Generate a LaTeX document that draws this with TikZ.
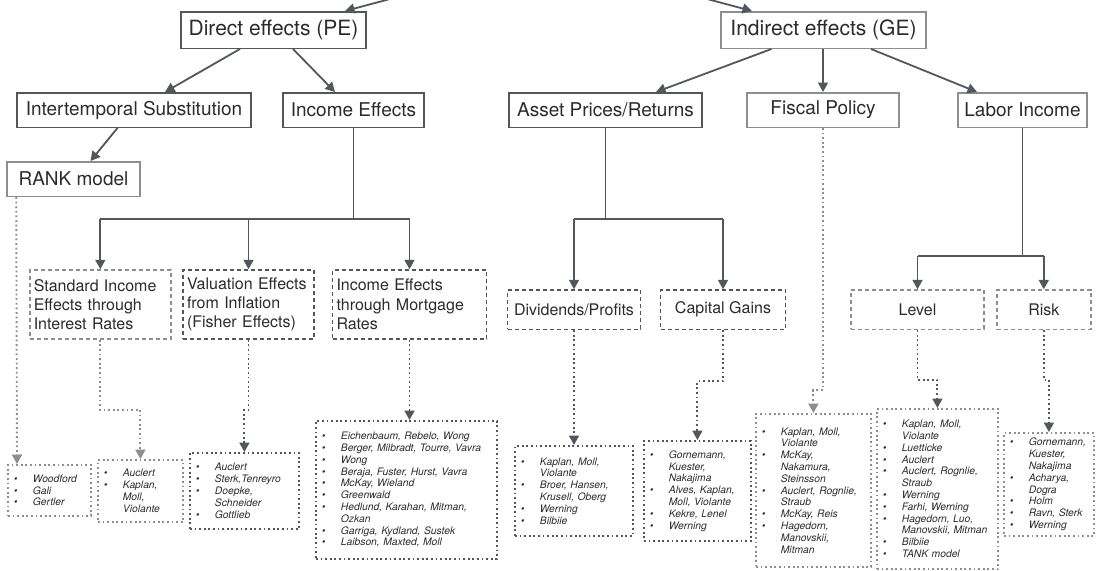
\documentclass[tikz,border=0pt]{standalone}
\usepackage{fontspec}
\setmainfont{TeX Gyre Heros}
\usetikzlibrary{arrows.meta}
\definecolor{darkgr}{HTML}{53575C}
\definecolor{lightgr}{HTML}{8E8E8E}
\definecolor{txt}{HTML}{2B2B2B}
\newcommand{\bul}{\makebox[19pt][l]{\textbullet}}
\newcommand{\ind}{\hspace*{19pt}}

\begin{document}
\begin{tikzpicture}[x=1pt,y=-1pt,
	box/.style={draw=darkgr,line width=1.5pt,inner sep=0pt,text=txt},
	lbox/.style={box,draw=lightgr},
	big/.style={font=\fontsize{21}{25}\selectfont,minimum height=36.5pt},
	mid/.style={font=\fontsize{19}{23}\selectfont,minimum height=34.5pt},
	sub/.style={font=\fontsize{16}{19.3}\selectfont,dash pattern=on 4pt off 3pt},
	refs/.style={draw=darkgr,line width=1.8pt,dash pattern=on 1.8pt off 2.8pt,anchor=north west,
		inner xsep=6pt,inner ysep=0pt,align=left,text=txt,font=\fontsize{10.3}{11.8}\selectfont\itshape},
	lrefs/.style={refs,draw=lightgr},
	arr/.style={draw=darkgr,line width=1.8pt,-{Triangle[length=9.5pt,width=10pt]}},
	ln/.style={draw=darkgr,line width=1.8pt},
	dot/.style={draw=darkgr,line width=1.9pt,dash pattern=on 1.8pt off 2.8pt,-{Triangle[length=9.5pt,width=10pt]}},
	ldot/.style={dot,draw=lightgr}]
	\useasboundingbox (0,0) rectangle (1097,570);
	% first two levels
	\node[box,big,minimum width=185pt] (dir) at (273.5,30) {Direct effects (PE)};
	\node[lbox,big,minimum width=205pt] (ind) at (823.5,30) {Indirect effects (GE)};
	\node[box,mid,minimum width=234pt] (inter) at (134,110) {Intertemporal Substitution};
	\node[box,mid,minimum width=141pt] (inc) at (353.5,110) {Income Effects};
	\node[box,mid,minimum width=193pt] (asset) at (605.5,110) {Asset Prices/Returns};
	\node[lbox,mid,minimum width=152pt] (fisc) at (823,110) {Fiscal Policy};
	\node[lbox,mid,minimum width=129pt] (labor) at (1022.5,110) {Labor Income};
	\node[lbox,mid,minimum width=133pt] (rank) at (73.5,179) {RANK model};
	% channels
	\node[lbox,sub,minimum width=141pt,minimum height=69pt,text width=133pt,align=left] (std) at (100.3,304.5) {Standard Income\\Effects through\\Interest Rates};
	\node[box,sub,minimum width=131pt,minimum height=69pt,text width=123pt,align=left] (val) at (248.5,304.5) {Valuation Effects\\from Inflation\\(Fisher Effects)};
	\node[box,sub,minimum width=154pt,minimum height=69pt,text width=146pt,align=left] (mort) at (409.5,304.5) {Income Effects\\through Mortgage\\Rates};
	\node[box,sub,minimum width=133pt,minimum height=39.3pt] (divd) at (574,309.7) {Dividends/Profits};
	\node[box,sub,minimum width=125pt,minimum height=39.3pt] (capg) at (723,309.7) {Capital Gains};
	\node[lbox,sub,minimum width=133pt,minimum height=39.3pt] (lev) at (917.5,309.7) {Level};
	\node[lbox,sub,minimum width=94pt,minimum height=39.3pt] (risk) at (1043.8,309.7) {Risk};
	% literature
	\node[lrefs,minimum width=83pt,minimum height=51pt,text width=71pt] (rankrefs) at (7,464)
		{\bul Woodford\\\bul Gali\\\bul Gertler};
	\node[lrefs,minimum width=85pt,minimum height=62pt,text width=73pt] (stdrefs) at (97,459)
		{\bul Auclert\\\bul Kaplan,\\\ind Moll,\\\ind Violante};
	\node[refs,minimum width=109pt,minimum height=76pt,text width=97pt] (valrefs) at (189,452)
		{\bul Auclert\\\bul Sterk,Tenreyro\\\bul Doepke,\\\ind Schneider\\\bul Gottlieb};
	\node[refs,minimum width=181pt,minimum height=138pt,text width=169pt] (mortrefs) at (315,420)
		{\bul Eichenbaum, Rebelo, Wong\\\bul Berger, Milbradt, Tourre, Vavra\\\bul Wong\\
		\bul Beraja, Fuster, Hurst, Vavra\\\bul McKay, Wieland\\\bul Greenwald\\
		\bul Hedlund, Karahan, Mitman,\\\ind Ozkan\\\bul Garriga, Kydland, Sustek\\\bul Laibson, Maxted, Moll};
	\node[refs,minimum width=118pt,minimum height=90pt,text width=106pt] (divrefs) at (514,445)
		{\bul Kaplan, Moll,\\\ind Violante\\\bul Broer, Hansen,\\\ind Krusell, Oberg\\\bul Werning\\\bul Bilbiie};
	\node[refs,minimum width=107pt,minimum height=100pt,text width=95pt] (caprefs) at (643,440)
		{\bul Gornemann,\\\ind Kuester,\\\ind Nakajima\\\bul Alves, Kaplan,\\\ind Moll, Violante\\\bul Kekre, Lenel\\\bul Werning};
	\node[lrefs,minimum width=115pt,minimum height=153pt,text width=103pt] (fiscrefs) at (755,413)
		{\bul Kaplan, Moll,\\\ind Violante\\\bul McKay,\\\ind Nakamura,\\\ind Steinsson\\\bul Auclert, Rognlie,\\\ind Straub\\
		\bul McKay, Reis\\\bul Hagedorn,\\\ind Manovskii,\\\ind Mitman};
	\node[lrefs,minimum width=121pt,minimum height=160pt,text width=109pt] (levrefs) at (876,408)
		{\bul Kaplan, Moll,\\\ind Violante\\\bul Luetticke\\\bul Auclert\\\bul Auclert, Rognlie,\\\ind Straub\\\bul Werning\\
		\bul Farhi, Werning\\\bul Hagedorn, Luo,\\\ind Manovskii, Mitman\\\bul Bilbiie\\\bul TANK model};
	\node[lrefs,minimum width=90pt,minimum height=103pt,text width=78pt] (riskrefs) at (1003,432)
		{\bul Gornemann,\\\ind Kuester,\\\ind Nakajima\\\bul Acharya,\\\ind Dogra\\\bul Holm\\\bul Ravn, Sterk\\\bul Werning};
	% arrows from the cut-off root
	\coordinate (topl) at (498.5,-30);
	\coordinate (topr) at (598.5,-30);
	\draw[arr] (topl) -- ([xshift=71.5pt]dir.north);
	\draw[arr] (topr) -- ([xshift=-71.5pt]ind.north);
	\draw[arr] ([xshift=-33.5pt]dir.south) -- ([xshift=31pt]inter.north);
	\draw[arr] ([xshift=19.5pt]dir.south) -- ([xshift=-18.5pt]inc.north);
	\draw[arr] ([xshift=-52pt]ind.south) -- ([xshift=50.5pt]asset.north);
	\draw[arr] (fisc.north |- ind.south) -- (fisc.north);
	\draw[arr] ([xshift=47.5pt]ind.south) -- ([xshift=-45.5pt]labor.north);
	\draw[arr] ([xshift=-16.5pt]inter.south) -- ([xshift=17pt]rank.north);
	% branches
	\coordinate (incj) at (353.5,219);
	\coordinate (assj) at (605.5,219);
	\coordinate (labj) at (1022.5,256);
	\draw[ln] (inc.south) -- (incj);
	\draw[ln] (std.north |- incj) -- (mort.north |- incj);
	\foreach \n in {std,val,mort} \draw[arr] (\n.north |- incj) -- (\n.north);
	\draw[ln] (asset.south) -- (assj);
	\draw[ln] (divd.north |- assj) -- (capg.north |- assj);
	\foreach \n in {divd,capg} \draw[arr] (\n.north |- assj) -- (\n.north);
	\draw[ln] (labor.south) -- (labj);
	\draw[ln] (lev.north |- labj) -- (risk.north |- labj);
	\foreach \n in {lev,risk} \draw[arr] (\n.north |- labj) -- (\n.north);
	% dotted links to the literature
	\coordinate (jogA) at (0,410);
	\coordinate (jogB) at (0,381);
	\coordinate (jogC) at (0,390);
	\coordinate (jogD) at (0,380);
	\draw[ldot] ([xshift=10pt]rank.south west) -- ([xshift=10pt]rankrefs.north west);
	\draw[ldot] (std.south) -- (std.south |- jogA) -| (stdrefs.north);
	\draw[dot] (val.south) -- (val.south |- jogA) -| (valrefs.north);
	\draw[dot] (mort.south) -- (mort.south |- mortrefs.north);
	\draw[dot] (divd.south) -- (divd.south |- divrefs.north);
	\draw[dot] (capg.south) -- (capg.south |- jogB) -| (caprefs.north);
	\draw[ldot] (fisc.south) -- (fisc.south |- jogC) -| (fiscrefs.north);
	\draw[dot] (lev.south) -- (lev.south |- jogD) -| (levrefs.north);
	\draw[dot] (risk.south) -- (risk.south |- jogD) -| (riskrefs.north);
\end{tikzpicture}
\end{document}
